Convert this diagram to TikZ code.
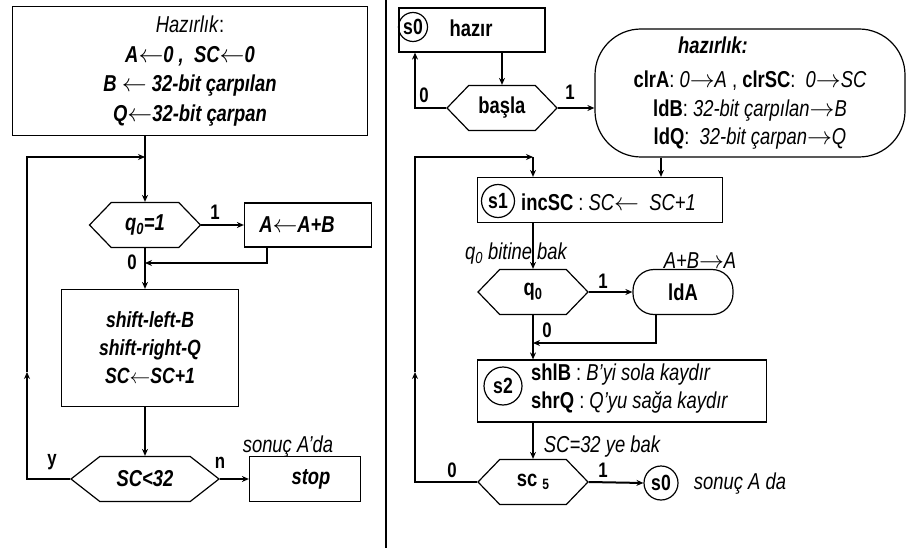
\documentclass[tikz,border=0pt]{standalone}
\usepackage{fontspec}
\setmainfont{Liberation Sans}[FakeStretch=0.8]
\usetikzlibrary{arrows.meta,positioning,shapes.symbols,shapes.misc}

\begin{document}
\begin{tikzpicture}[x=1pt, y=-1pt,
  every node/.append style={font=\fontsize{23}{25}\selectfont},
  box/.style={draw, line width=1.2pt, align=center, inner sep=2pt},
  hexa/.style={draw, line width=1.2pt, shape=signal, signal to=west and east, signal pointer angle=#1, minimum height=45pt, inner sep=1pt},
  state/.style={draw, circle, line width=1.2pt, inner sep=0pt, font=\fontsize{22}{24}\selectfont\bfseries},
  arrow/.style={-{Stealth[length=7pt,width=6pt]}, line width=2pt},
  lbl/.style={inner sep=0pt, font=\fontsize{21}{22}\selectfont\bfseries},
  note/.style={inner sep=0pt, font=\fontsize{23}{25}\selectfont\itshape}
]
\useasboundingbox (0,0) rectangle (907,548);
\draw[line width=1.3pt] (386,0) -- (386,548);

% left: flowchart
\node[box, minimum width=355pt, minimum height=129pt, font=\fontsize{23}{29.5}\selectfont] (prepL) at (190,71)
  {\textit{Hazırlık}:\\ \textbf{\textit{A$\leftarrow$0 ,\ \ SC$\leftarrow$0}}\\ \textbf{\textit{B $\leftarrow$ 32-bit çarpılan}}\\ \textbf{\textit{Q$\leftarrow$32-bit çarpan}}};
\coordinate (joinL) at (145,157);
\node[hexa=92, minimum width=111pt] (qL) at (145,225) {\textbf{\textit{q\textsubscript{0}=1}}};
\node[box, minimum width=127pt, minimum height=44pt] (addL) at (308,225) {\textbf{\textit{A$\leftarrow$A+B}}\hspace*{22pt}};
\coordinate (mergeL) at (145,263);
\node[box, minimum width=177pt, minimum height=117pt, font=\fontsize{22}{28}\selectfont] (shiftL) at (150,348)
  {\textbf{\textit{shift-left-B}}\\ \textbf{\textit{shift-right-Q}}\\ \textbf{\textit{SC$\leftarrow$SC+1}}};
\node[hexa=76, minimum width=148pt] (scL) at (145,479) {\textbf{\textit{SC<32}}};
\node[box, minimum width=111pt, minimum height=45pt] (stopL) at (305,479) {\hspace*{12pt}\textbf{\textit{stop}}};
\node[note] (resL) at (288,447) {sonuç A’da};
\coordinate (upL) at (27,372);

\draw[arrow] (prepL.south -| qL.north) -- (qL.north);
\draw[arrow] (qL.east) -- (addL.west);
\draw[arrow] ([xshift=-41pt]addL.south) |- (mergeL);
\draw[arrow] (qL.south) -- (qL.south |- shiftL.north);
\draw[arrow] (shiftL.south -| scL.north) -- (scL.north);
\draw[arrow] (scL.east) -- (stopL.west);
\draw[arrow] (scL.west) -| (upL);
\draw[arrow] (upL) |- (joinL);

\node[lbl] (oneL) at (215,212) {1};
\node[lbl] (zeroL) at (132,262) {0};
\node[lbl] (yesL) at (52,462) {y};
\node[lbl] (noL) at (220,463) {n};

% right: state chart
\node[box, minimum width=146pt, minimum height=44pt] (s0box) at (472,30) {};
\node[state, minimum size=29pt] (s0a) at (413,27) {s0};
\node[font=\fontsize{23}{25}\selectfont\bfseries] (hazir) at (471,28) {hazır};
\node[hexa=92, minimum width=110pt] (basla) at (502,108) {\textbf{başla}};
\node[box, rounded corners=46pt, minimum width=310pt, minimum height=128pt, font=\fontsize{23}{28.5}\selectfont] (prepR) at (750,93)
  {\textbf{\textit{hazırlık:}}\hspace*{74pt}\\[6pt]
   \textbf{clrA}: \textit{0$\rightarrow$A} ,\ \textbf{clrSC}:\ \ \textit{0$\rightarrow$SC}\\
   \textbf{ldB}: \textit{32-bit çarpılan$\rightarrow$B}\\
   \textbf{ldQ}:\ \ \textit{32-bit çarpan$\rightarrow$Q}};
\coordinate (joinR) at (533,157);
\node[box, minimum width=245pt, minimum height=45pt] (s1box) at (600,200) {};
\node[state, minimum size=33pt] (s1) at (498,201) {s1};
\node[anchor=west, inner sep=0pt] (s1txt) at (521,202) {\textbf{incSC} : \textit{SC$\leftarrow$\ \ SC+1}};
\node[hexa=92, minimum width=110pt] (qR) at (533,292) {\textbf{q\textsubscript{0}}};
\node[box, rounded corners=21pt, minimum width=100pt, minimum height=45pt] (ldA) at (683,292) {\textbf{ldA}};
\coordinate (mergeR) at (533,343);
\node[box, minimum width=289pt, minimum height=62pt] (s2box) at (622,391) {};
\node[state, minimum size=38pt] (s2) at (503,386) {s2};
\node[anchor=west, align=left, inner sep=0pt, font=\fontsize{23}{28}\selectfont] (s2txt) at (531,389)
  {\textbf{shlB} : \textit{B'yi sola kaydır}\\ \textbf{shrQ} : \textit{Q'yu sağa kaydır}};
\node[hexa=92, minimum width=110pt] (scR) at (533,482) {\textbf{sc \raisebox{-3pt}{\fontsize{15}{15}\selectfont 5}}};
\node[state, minimum size=34pt] (s0b) at (661,483) {s0};
\node[note] (resR) at (740,484) {sonuç A da};
\coordinate (upR) at (415,372);

\node[note] (qnote) at (516,254) {q\textsubscript{0} bitine bak};
\node[note] (addnote) at (700,261) {A+B$\rightarrow$A};
\node[note] (scnote) at (602,447) {SC=32 ye bak};

\draw[arrow] (s0box.south -| basla.north) -- (basla.north);
\draw[arrow] (basla.west) -| (s0box.south -| upR);
\draw[arrow] (basla.east) -- (basla.east -| prepR.west);
\draw[arrow] ([xshift=-89pt]prepR.south) -- ([xshift=-89pt]prepR.south |- s1box.north);
\draw[arrow] (scR.west) -| (upR);
\draw[arrow] (upR) |- (joinR);
\draw[arrow] (joinR) -- (joinR |- s1box.north);
\draw[arrow] (s1box.south -| qR.north) -- (qR.north);
\draw[arrow] (qR.east) -- (ldA.west);
\draw[arrow] ([xshift=-27pt]ldA.south) |- (mergeR);
\draw[arrow] (qR.south) -- (qR.south |- s2box.north);
\draw[arrow] (s2box.south -| scR.north) -- (scR.north);
\draw[arrow] (scR.east) -- (s0b.west);

\node[lbl] (zR1) at (424,95) {0};
\node[lbl] (oR1) at (570,92) {1};
\node[lbl] (oR2) at (603,281) {1};
\node[lbl] (zR2) at (547,330) {0};
\node[lbl] (zR3) at (452,470) {0};
\node[lbl] (oR3) at (603,470) {1};
\end{tikzpicture}
\end{document}
